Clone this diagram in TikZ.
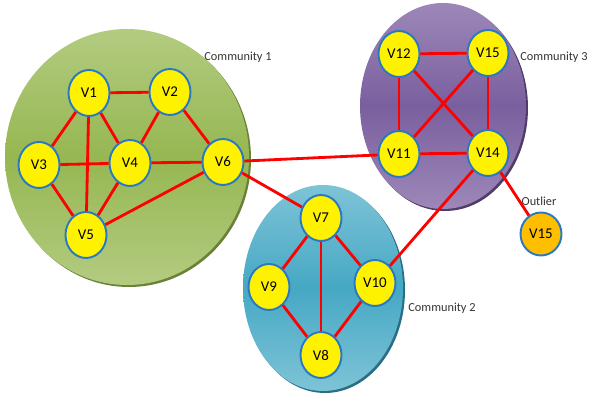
\documentclass[tikz,border=0pt]{standalone}
\usepackage{fontspec}
\setmainfont{Carlito}
\usetikzlibrary{shapes.geometric}

\definecolor{nodeblue}{RGB}{40,120,195}
\definecolor{greenlight}{RGB}{196,215,156}
\definecolor{greendark}{RGB}{150,183,82}
\definecolor{greenrim}{RGB}{105,130,55}
\definecolor{bluelight}{RGB}{160,212,226}
\definecolor{bluedark}{RGB}{70,168,196}
\definecolor{bluerim}{RGB}{40,110,135}
\definecolor{purplelight}{RGB}{178,160,200}
\definecolor{purpledark}{RGB}{122,95,158}
\definecolor{purplerim}{RGB}{80,60,105}
\definecolor{outlierorange}{RGB}{255,190,0}

\pgfdeclareverticalshading{greenfill}{100bp}{color(0bp)=(greenlight); color(10bp)=(greenlight); color(50bp)=(greendark); color(90bp)=(greenlight); color(100bp)=(greenlight)}
\pgfdeclareverticalshading{bluefill}{100bp}{color(0bp)=(bluelight); color(10bp)=(bluelight); color(50bp)=(bluedark); color(90bp)=(bluelight); color(100bp)=(bluelight)}
\pgfdeclareverticalshading{purplefill}{100bp}{color(0bp)=(purplelight); color(10bp)=(purplelight); color(50bp)=(purpledark); color(90bp)=(purplelight); color(100bp)=(purplelight)}

\begin{document}
\begin{tikzpicture}[x=0.02cm, y=-0.02cm,
        vertex/.style={ellipse, draw=nodeblue, line width=1.1pt, fill=yellow, minimum width=0.82cm, minimum height=0.92cm, inner sep=0pt, font=\fontsize{8.5}{9}\selectfont},
        outlier/.style={vertex, fill=outlierorange, minimum height=0.86cm},
        link/.style={red, line width=1.6pt},
        commlabel/.style={font=\fontsize{7}{8}\selectfont, text=black!80}]
                \useasboundingbox (0,0) rectangle (589,394);
                
                \fill[greenrim] (129,159) ellipse [x radius=122, y radius=128];
                \shade[shading=greenfill] (127,157) ellipse [x radius=122, y radius=128];
                
                \fill[bluerim] (325,290) ellipse [x radius=80, y radius=103];
                \shade[shading=bluefill] (323,288) ellipse [x radius=80, y radius=103];
                
                \fill[purplerim] (445,108) ellipse [x radius=83, y radius=103];
                \shade[shading=purplefill] (443,106) ellipse [x radius=83, y radius=103];
                
                \node[vertex] (v1) at (89,93) {V1};
                \node[vertex] (v2) at (170,92) {V2};
                \node[vertex] (v3) at (39,165) {V3};
                \node[vertex] (v4) at (130,163) {V4};
                \node[vertex] (v5) at (86,235) {V5};
                \node[vertex] (v6) at (223,162) {V6};
                
                \node[vertex] (v7) at (321,218) {V7};
                \node[vertex] (v9) at (269,287) {V9};
                \node[vertex] (v10) at (375,283) {V10};
                \node[vertex] (v8) at (321,355) {V8};
                
                \node[vertex] (v12) at (399,54) {V12};
                \node[vertex] (v15) at (488,53) {V15};
                \node[vertex] (v11) at (399,154) {V11};
                \node[vertex] (v14) at (488,153) {V14};
                
                \node[outlier] (out) at (541,234) {V15};
                
                \node[commlabel] (c1) at (238,57) {Community 1};
                \node[commlabel] (c2) at (442,308) {Community 2};
                \node[commlabel] (c3) at (554,57) {Community 3};
                \node[commlabel] (lab) at (539,201) {Outlier};
                
                \draw[link] (v1) -- (v2);
                \draw[link] (v1) -- (v3);
                \draw[link] (v1) -- (v4);
                \draw[link] (v1) -- (v5);
                \draw[link] (v2) -- (v4);
                \draw[link] (v2) -- (v6);
                \draw[link] (v3) -- (v4);
                \draw[link] (v3) -- (v5);
                \draw[link] (v4) -- (v5);
                \draw[link] (v4) -- (v6);
                \draw[link] (v5) -- (v6);
                
                \draw[link] (v6) -- (v11);
                \draw[link] (v6) -- (v7);
                
                \draw[link] (v7) -- (v9);
                \draw[link] (v7) -- (v10);
                \draw[link] (v7) -- (v8);
                \draw[link] (v9) -- (v8);
                \draw[link] (v10) -- (v8);
                \draw[link] (v10) -- (v14);
                
                \draw[link] (v12) -- (v15);
                \draw[link] (v12) -- (v11);
                \draw[link] (v12) -- (v14);
                \draw[link] (v15) -- (v11);
                \draw[link] (v15) -- (v14);
                \draw[link] (v11) -- (v14);
                \draw[link] (v14) -- (out);
            \end{tikzpicture}
\end{document}
